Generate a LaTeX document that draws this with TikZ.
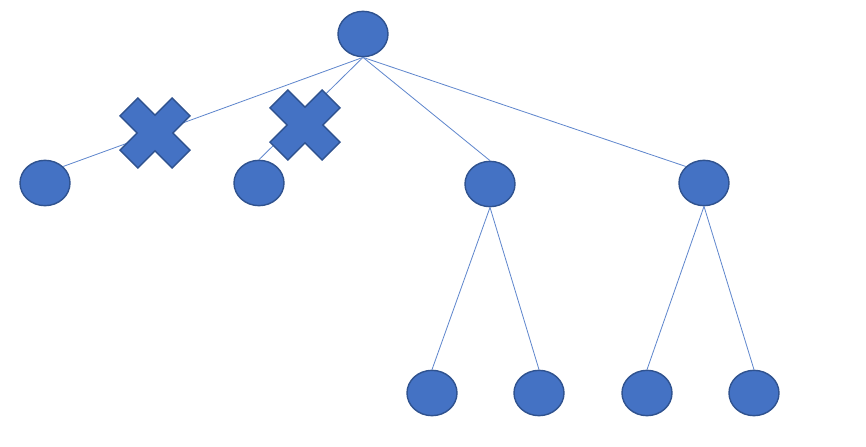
\documentclass[tikz,border=0pt]{standalone}
\usetikzlibrary{shapes.geometric}
\definecolor{nodeblue}{HTML}{4472C4}
\definecolor{nodeedge}{HTML}{2F528F}
\begin{document}
\begin{tikzpicture}[x=0.03cm, y=-0.03cm,
  vertex/.style={ellipse, draw=nodeedge, fill=nodeblue, line width=1.2pt, minimum width=1.5cm, minimum height=1.36cm, inner sep=0pt},
  edge/.style={draw=nodeblue!85!white, line width=0.7pt},
  crossmark/.pic={\filldraw[fill=nodeblue, draw=nodeedge, line width=1.2pt, rotate=45]
    (36.8,12.7) -- (12.7,12.7) -- (12.7,36.8) -- (-12.7,36.8) -- (-12.7,12.7) -- (-36.8,12.7)
    -- (-36.8,-12.7) -- (-12.7,-12.7) -- (-12.7,-36.8) -- (12.7,-36.8) -- (12.7,-12.7) -- (36.8,-12.7) -- cycle;}]
\useasboundingbox (0,0) rectangle (866,447);
% tree nodes
\node[vertex] (root) at (363,34) {};
\node[vertex] (a) at (45,183) {};
\node[vertex] (b) at (259,183) {};
\node[vertex] (c) at (490,184) {};
\node[vertex] (d) at (704,183) {};
\node[vertex] (c1) at (432,393) {};
\node[vertex] (c2) at (539,393) {};
\node[vertex] (d1) at (647,393) {};
\node[vertex] (d2) at (754,393) {};
% connectors
\draw[edge] (root.south) -- (a.north east);
\draw[edge] (root.south) -- (b.north);
\draw[edge] (root.south) -- (c.north);
\draw[edge] (root.south) -- (d.north west);
\foreach \p/\q in {c/c1,c/c2,d/d1,d/d2}
  \draw[edge] (\p.south) -- (\q.north);
% pruned branches
\pic at (155,133) {crossmark};
\pic at (305,125) {crossmark};
\end{tikzpicture}
\end{document}
